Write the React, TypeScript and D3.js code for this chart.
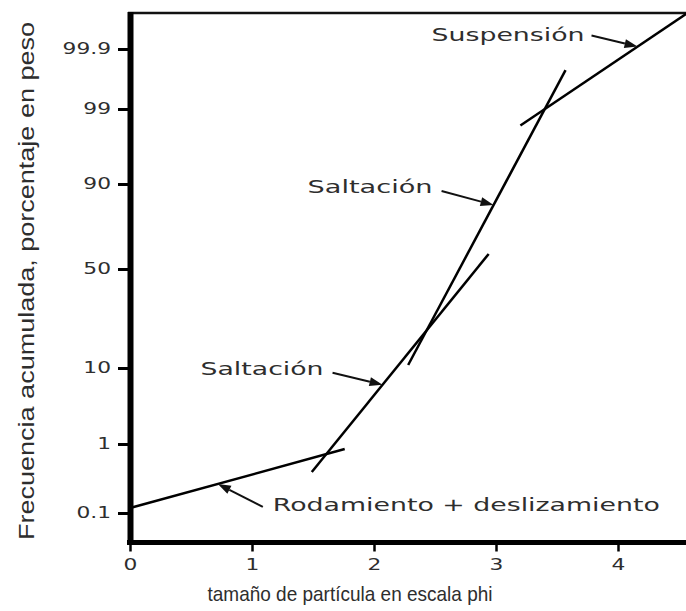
import React, { useEffect, useRef } from "react";
import * as d3 from "d3";

type Pt = [number, number]; // [phi, cumulative %]

const phiTicks = [0, 1, 2, 3, 4];
const pctTicks = [0.1, 1, 10, 50, 90, 99, 99.9];
const pctLabels = ["0.1", "1", "10", "50", "90", "99", "99.9"];

// straight segments of the cumulative curve
const segRodamiento: Pt[] = [[0, 0.12], [1.76, 0.86]];
const segSaltacionBaja: Pt[] = [[1.49, 0.42], [2.94, 59]];
const segSaltacionAlta: Pt[] = [[2.28, 10.7], [3.57, 99.76]];
const segSuspension: Pt[] = [[3.2, 98.2], [4.56, 99.98]];
const segments = [segRodamiento, segSaltacionBaja, segSaltacionAlta, segSuspension];

const annotationText = ["Suspensión", "Saltación", "Saltación", "Rodamiento + deslizamiento"];
const annotationSegment = [3, 2, 1, 0];
const annotationPhi = [4.16, 2.98, 2.07, 0.72];

// arrow tail offset from tip, text offset from tail
const arrowLayout = [
  { dx: -46, dy: -11, anchor: "end", tx: -7, ty: -1, len: 153 },
  { dx: -52, dy: -14, anchor: "end", tx: -9, ty: -4, len: 125 },
  { dx: -50, dy: -12, anchor: "end", tx: -9, ty: -4, len: 123 },
  { dx: 45, dy: 23, anchor: "start", tx: 10, ty: -2, len: 387 },
];

// inverse normal CDF (Abramowitz & Stegun 26.2.23)
function probit(p: number): number {
  const q = p < 0.5 ? p : 1 - p;
  const t = Math.sqrt(-2 * Math.log(q));
  const z = t - (2.515517 + 0.802853 * t + 0.010328 * t * t) /
    (1 + 1.432788 * t + 0.189269 * t * t + 0.001308 * t * t * t);
  return p < 0.5 ? -z : z;
}

const App = () => {
  const ref = useRef<SVGSVGElement>(null);

  useEffect(() => {
    const width = 686;
    const height = 611;
    const svg = d3.select(ref.current);
    svg.selectAll("*").remove();

    const ink = "#2e2e2e";
    const font = "'DejaVu Sans', Verdana, sans-serif";
    const left = 130;
    const top = 13;
    const bottom = 542.5;

    const x = d3.scaleLinear().domain([0, 4]).range([left, 618]);
    // the probability axis is hand drawn, so map it piecewise through the ticks
    const y = d3.scaleLinear()
      .domain(pctTicks.map(p => probit(p / 100)))
      .range([513, 444, 368, 269, 184, 109, 49]);
    const pos = (d: Pt): Pt => [x(d[0]), y(probit(d[1] / 100))];

    const stretch = (sel: any, k: number) => sel.each(function (this: SVGTextElement) {
      const w = this.getComputedTextLength();
      d3.select(this).attr("textLength", w * k).attr("lengthAdjust", "spacingAndGlyphs");
    });

    // frame
    svg.append("line")
      .attr("x1", left - 2).attr("x2", width).attr("y1", top).attr("y2", top)
      .attr("stroke", "#111").attr("stroke-width", 2.5);
    svg.append("line")
      .attr("x1", left - 3).attr("x2", width).attr("y1", bottom).attr("y2", bottom)
      .attr("stroke", "#000").attr("stroke-width", 5);
    svg.append("line")
      .attr("x1", left + 0.5).attr("x2", left + 0.5).attr("y1", top - 1).attr("y2", bottom + 2.5)
      .attr("stroke", "#000").attr("stroke-width", 6);

    // y axis
    const yAxis = svg.append("g")
      .attr("transform", `translate(${left - 1},0)`)
      .call(d3.axisLeft(y)
        .tickValues(pctTicks.map(p => probit(p / 100)))
        .tickFormat((d: any, i: number) => pctLabels[i])
        .tickSize(11).tickPadding(7).tickSizeOuter(0));
    yAxis.select(".domain").remove();
    yAxis.selectAll(".tick line").attr("stroke", "#000").attr("stroke-width", 3);
    yAxis.selectAll(".tick text")
      .attr("fill", ink).style("font-family", font).style("font-size", "15px");
    stretch(yAxis.selectAll(".tick text"), 1.45);

    // x axis
    const xAxis = svg.append("g")
      .attr("transform", `translate(0,${bottom + 2})`)
      .call(d3.axisBottom(x).tickValues(phiTicks).tickFormat(d3.format("d"))
        .tickSize(7).tickPadding(8).tickSizeOuter(0));
    xAxis.select(".domain").remove();
    xAxis.selectAll(".tick line").attr("stroke", "#000").attr("stroke-width", 2.5);
    xAxis.selectAll(".tick text")
      .attr("fill", ink).style("font-family", font).style("font-size", "15px");
    stretch(xAxis.selectAll(".tick text"), 1.45);

    // curve segments
    const line = d3.line<Pt>().x(d => x(d[0])).y(d => y(probit(d[1] / 100)));
    svg.selectAll(".segment")
      .data(segments)
      .enter()
      .append("path")
      .attr("class", "segment")
      .attr("d", d => line(d))
      .attr("fill", "none")
      .attr("stroke", "#000")
      .attr("stroke-width", 2.5);

    // annotations with arrows
    annotationText.forEach((label, i) => {
      const seg = segments[annotationSegment[i]];
      const [x0, y0] = pos(seg[0]);
      const [x1, y1] = pos(seg[1]);
      const tipX = x(annotationPhi[i]);
      const t = (tipX - x0) / (x1 - x0);
      const tipY = y0 + t * (y1 - y0);
      const L = arrowLayout[i];
      const sx = tipX + L.dx;
      const sy = tipY + L.dy;
      const ang = Math.atan2(tipY - sy, tipX - sx);
      const head = 13;
      const half = 4.5;
      const bx = tipX - head * Math.cos(ang);
      const by = tipY - head * Math.sin(ang);

      svg.append("line")
        .attr("x1", sx).attr("y1", sy).attr("x2", bx).attr("y2", by)
        .attr("stroke", "#111").attr("stroke-width", 2);
      svg.append("polygon")
        .attr("points", [
          [tipX, tipY],
          [bx + half * Math.sin(ang), by - half * Math.cos(ang)],
          [bx - half * Math.sin(ang), by + half * Math.cos(ang)],
        ].map(p => p.join(",")).join(" "))
        .attr("fill", "#111");
      svg.append("text")
        .attr("x", sx + L.tx)
        .attr("y", sy + L.ty)
        .attr("dy", "0.35em")
        .attr("text-anchor", L.anchor)
        .attr("textLength", L.len)
        .attr("lengthAdjust", "spacingAndGlyphs")
        .style("font-family", font)
        .style("font-size", "17px")
        .attr("fill", ink)
        .text(label);
    });

    // axis titles
    svg.append("text")
      .attr("x", 350)
      .attr("y", 601)
      .attr("text-anchor", "middle")
      .attr("textLength", 285)
      .attr("lengthAdjust", "spacingAndGlyphs")
      .style("font-family", "'Liberation Sans', Arial, sans-serif")
      .style("font-size", "21px")
      .attr("fill", ink)
      .text("tamaño de partícula en escala phi");

    svg.append("text")
      .attr("transform", `translate(34,281) rotate(-90)`)
      .attr("text-anchor", "middle")
      .attr("textLength", 518)
      .attr("lengthAdjust", "spacingAndGlyphs")
      .style("font-family", "'Liberation Sans', Arial, sans-serif")
      .style("font-size", "22px")
      .attr("fill", ink)
      .text("Frecuencia acumulada, porcentaje en peso");

    svg.attr("width", width).attr("height", height);
  }, []);

  return (
    <svg ref={ref} width={686} height={611}
      style={{ position: "absolute", left: 0, top: 0, background: "#fff" }} />
  );
};

export default App;
